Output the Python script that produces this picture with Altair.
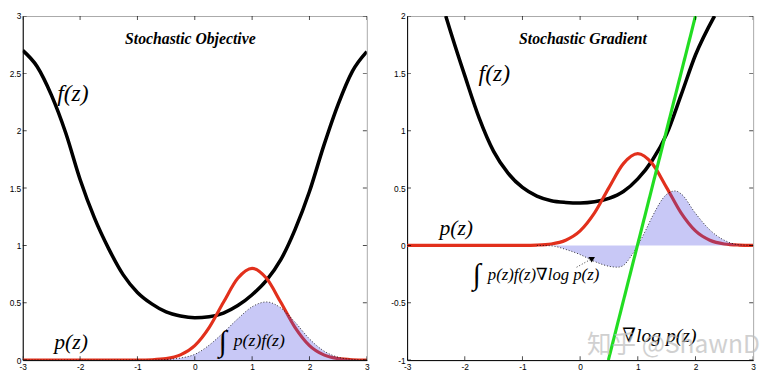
import altair as alt
import pandas as pd

# ---------------- data ----------------
Z = [-3.0, -2.75, -2.5, -2.25, -2.0, -1.75, -1.5, -1.25, -1.0, -0.75, -0.5, -0.25,
     0.0, 0.25, 0.5, 0.75, 1.0, 1.25, 1.5, 1.75, 2.0, 2.25, 2.5, 2.75, 3.0]

# p(z), red curve (same in both panels)
P_Z = [0, 0, 0, 0, 0, 0, 0, 0, 0.0005, 0.003, 0.0125, 0.045,
       0.126, 0.283, 0.504, 0.713, 0.8, 0.713, 0.504, 0.283, 0.126, 0.045, 0.0125, 0.003, 0.0005]

# f(z), black curve, left panel
F_LEFT = [2.70, 2.56, 2.31, 1.98, 1.575, 1.24, 0.97, 0.745, 0.59, 0.49, 0.42, 0.385,
          0.37, 0.378, 0.41, 0.475, 0.57, 0.695, 0.875, 1.14, 1.47, 1.87, 2.23, 2.52, 2.69]

# p(z) f(z), shaded area, left panel
PF_LEFT = [0, 0, 0, 0, 0, 0, 0, 0, 0.0003, 0.001, 0.005, 0.018,
           0.05, 0.13, 0.24, 0.36, 0.465, 0.507, 0.455, 0.33, 0.185, 0.08, 0.025, 0.006, 0.001]

# f(z), black curve, right panel
Z_F_RIGHT = [-2.33, -2.25, -2.0, -1.75, -1.5, -1.25, -1.0, -0.75, -0.5, -0.25, 0.0,
             0.25, 0.5, 0.75, 1.0, 1.25, 1.5, 1.75, 2.0, 2.33]
F_RIGHT = [2.0, 1.87, 1.48, 1.11, 0.82, 0.63, 0.505, 0.43, 0.39, 0.375, 0.37,
           0.38, 0.41, 0.47, 0.58, 0.74, 0.97, 1.31, 1.66, 2.0]

# p(z) f(z) grad log p(z), shaded area, right panel
Z_PFG = [-0.75, -0.5, -0.25, 0.0, 0.25, 0.5, 0.65, 0.75, 0.875, 1.0, 1.125, 1.25,
         1.5, 1.65, 1.75, 2.0, 2.25, 2.5, 2.75, 3.0]
PFG_RIGHT = [0, -0.004, -0.035, -0.08, -0.14, -0.182, -0.19, -0.175, -0.1, 0, 0.12, 0.25,
             0.445, 0.475, 0.45, 0.28, 0.135, 0.045, 0.006, 0]

# grad log p(z), green line, right panel
Z_GRAD = [0.49, 2.0]
GRAD = [-1.0, 2.0]

X_TICKS = [-3, -2, -1, 0, 1, 2, 3]
Y_TICKS_LEFT = [0, 0.5, 1, 1.5, 2, 2.5, 3]
Y_TICKS_RIGHT = [-1, -0.5, 0, 0.5, 1, 1.5, 2]

# ---------------- styling ----------------
RED = "#e2301c"
GREEN = "#22dd22"
SERIF = "Liberation Serif, DejaVu Serif, serif"
CJK = "Noto Sans CJK SC, Liberation Sans, sans-serif"

xs = alt.Scale(domain=[-3, 3], nice=False, zero=False)
xa = alt.Axis(values=X_TICKS, labelExpr="'' + datum.value", title=None, labelPadding=3)


def panel(ydom, yticks, width, f_df, area_df, texts, extra=None):
    ys = alt.Scale(domain=ydom, nice=False, zero=False)
    ya = alt.Axis(values=yticks, labelExpr="'' + datum.value", title=None)
    X = alt.X("z:Q", scale=xs, axis=xa)
    Y = alt.Y("v:Q", scale=ys, axis=ya)

    def line(df, color, w):
        return alt.Chart(df).mark_line(color=color, strokeWidth=w, interpolate="monotone",
                                       clip=True).encode(x=X, y=Y)

    red_df = pd.DataFrame({"z": Z, "v": P_Z})
    layers = [
        line(f_df, "black", 3.6),
        line(red_df, RED, 3.2),
        alt.Chart(area_df).mark_area(color="#4848e0", opacity=0.3, interpolate="monotone",
                                     clip=True).encode(x=X, y=Y, y2=alt.Y2Datum(0)),
        alt.Chart(area_df).mark_line(color="black", strokeWidth=0.8, strokeDash=[1, 2],
                                     interpolate="monotone", clip=True).encode(x=X, y=Y),
    ]
    if extra is not None:
        layers += extra(X, Y)

    for (z, v, s, size, style, weight, color, opacity) in texts:
        layers.append(
            alt.Chart(pd.DataFrame({"z": [z], "v": [v], "t": [s]})).mark_text(
                font=SERIF if color == "black" else CJK,
                fontSize=size, fontStyle=style, fontWeight=weight, color=color,
                opacity=opacity, align="left" if weight != "bold" else "center",
                baseline="middle").encode(x=X, y=Y, text="t:N")
        )

    # inward ticks on all four sides
    tx = pd.DataFrame({"z": X_TICKS})
    ty = pd.DataFrame({"v": yticks})
    for yd in ydom:
        layers.append(alt.Chart(tx).mark_tick(orient="vertical", size=8, thickness=1,
                                              color="black", clip=True).encode(
            x=X, y=alt.YDatum(yd, scale=ys, axis=ya)))
    for xd in [-3, 3]:
        layers.append(alt.Chart(ty).mark_tick(orient="horizontal", size=8, thickness=1,
                                              color="black", clip=True).encode(
            x=alt.XDatum(xd, scale=xs, axis=xa), y=Y))

    return alt.layer(*layers).properties(width=width, height=350)


left_texts = [
    (-0.077, 2.80, "Stochastic Objective", 16, "italic", "bold", "black", 1),
    (-2.40, 2.32, "f(z)", 24, "italic", "normal", "black", 1),
    (-2.45, 0.16, "p(z)", 22, "italic", "normal", "black", 1),
    (0.42, 0.16, "∫", 30, "italic", "normal", "black", 1),
    (0.68, 0.165, "p(z)f(z)", 18, "italic", "normal", "black", 1),
]

right_texts = [
    (0.05, 1.80, "Stochastic Gradient", 16, "italic", "bold", "black", 1),
    (-1.76, 1.49, "f(z)", 24, "italic", "normal", "black", 1),
    (-2.44, 0.15, "p(z)", 22, "italic", "normal", "black", 1),
    (-1.86, -0.26, "∫", 30, "italic", "normal", "black", 1),
    (-1.60, -0.26, "p(z)f(z)∇log p(z)", 17, "italic", "normal", "black", 1),
    (0.73, -0.79, "∇log p(z)", 20, "italic", "normal", "black", 1),
    (0.12, -0.87, "知乎 @ShawnD", 25, "normal", "normal", "#bdbdbd", 0.7),
]


def right_extra(X, Y):
    green = pd.DataFrame({"z": Z_GRAD, "v": GRAD})
    arrow = pd.DataFrame({"z": [-0.06, 0.2], "v": [-0.19, -0.117]})
    head = pd.DataFrame({"z": [0.2], "v": [-0.125]})
    return [
        alt.Chart(arrow).mark_line(color="black", strokeWidth=0.8, strokeDash=[1, 2]).encode(x=X, y=Y),
        alt.Chart(head).mark_point(shape="triangle-down", size=45, filled=True, color="black",
                                   opacity=1).encode(x=X, y=Y),
        alt.Chart(green).mark_line(color=GREEN, strokeWidth=3.2, clip=True).encode(x=X, y=Y),
    ]


left = panel([0, 3], Y_TICKS_LEFT, 350,
             pd.DataFrame({"z": Z, "v": F_LEFT}),
             pd.DataFrame({"z": Z, "v": PF_LEFT}), left_texts)
right = panel([-1, 2], Y_TICKS_RIGHT, 352,
              pd.DataFrame({"z": Z_F_RIGHT, "v": F_RIGHT}),
              pd.DataFrame({"z": Z_PFG, "v": PFG_RIGHT}), right_texts, right_extra)

chart = alt.hconcat(left, right, spacing=20).properties(
    padding={"left": 0, "top": 0, "right": 0, "bottom": 0},
    background="white",
).configure_view(stroke="#a8a8a8", strokeWidth=1).configure_axis(
    labelFont="Liberation Sans", labelFontSize=8.5, labelColor="black", ticks=False, grid=False,
    domainColor="black", domainWidth=1, labelPadding=2, labelFlush=False,
)

chart.save("out.html", embed_options={"renderer": "svg", "actions": False})
